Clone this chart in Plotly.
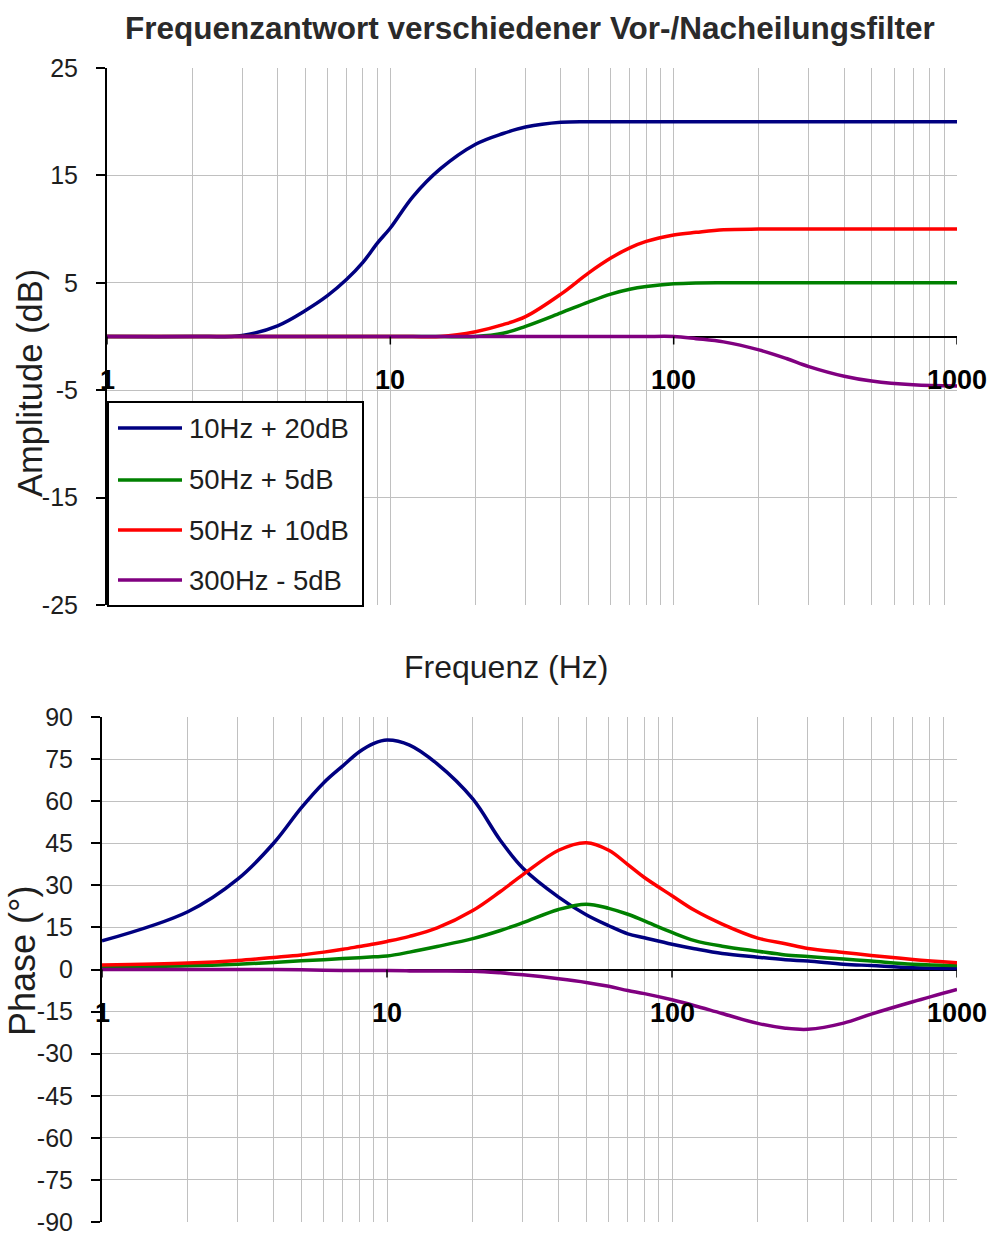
import numpy as np
import plotly.graph_objects as go

W, H = 989, 1237

# Frequency grid (Hz) shared by all series
FREQ = [1, 2, 3, 4, 5, 6, 7, 8, 9, 10, 12, 15, 20, 25, 30, 40, 50, 60, 70, 80,
        100, 120, 150, 200, 250, 300, 400, 500, 700, 1000]

SERIES_NAMES = ["10Hz + 20dB", "50Hz + 5dB", "50Hz + 10dB", "300Hz - 5dB"]
SERIES_COLORS = ["#000080", "#008000", "#ff0000", "#800080"]

# Amplitude (dB)
AMP_10HZ_20DB = [0, 0, 0.1, 1.0, 2.4, 3.8, 5.3, 6.9, 8.7, 10.1, 13.0, 15.6, 17.9, 18.9, 19.5,
                 19.95, 20, 20, 20, 20, 20, 20, 20, 20, 20, 20, 20, 20, 20, 20]
AMP_50HZ_5DB = [0, 0, 0, 0, 0, 0, 0, 0, 0, 0, 0, 0, 0, 0.3, 0.95,
                2.2, 3.2, 3.95, 4.4, 4.65, 4.9, 4.98, 5, 5, 5, 5, 5, 5, 5, 5]
AMP_50HZ_10DB = [0, 0, 0, 0, 0, 0, 0, 0, 0, 0, 0, 0, 0.45, 1.1, 1.85,
                 3.95, 5.9, 7.3, 8.25, 8.85, 9.45, 9.7, 9.95, 10, 10, 10, 10, 10, 10, 10]
AMP_300HZ_M5DB = [0, 0, 0, 0, 0, 0, 0, 0, 0, 0, 0, 0, 0, 0, 0,
                  0, 0, 0, 0, 0, 0, -0.2, -0.5, -1.25, -2.05, -2.8, -3.7, -4.15, -4.5, -4.6]

# Phase (degrees)
PH_10HZ_20DB = [10.2, 20.6, 32.3, 45.0, 57.6, 66.6, 72.6, 77.6, 80.6, 81.8, 80.0, 73.3, 60.8, 46.0, 36.1,
                25.8, 19.5, 15.6, 12.7, 11.3, 9.0, 7.4, 5.7, 4.4, 3.5, 3.0, 1.9, 1.4, 0.65, 0.35]
PH_50HZ_5DB = [0.8, 1.3, 1.9, 2.5, 3.1, 3.5, 3.9, 4.2, 4.5, 4.8, 6.2, 8.2, 11.0, 13.9, 16.7,
               21.4, 23.3, 21.8, 19.7, 17.3, 13.2, 10.3, 8.3, 6.5, 5.2, 4.6, 3.7, 3.0, 1.9, 1.4]
PH_50HZ_10DB = [1.6, 2.3, 3.2, 4.3, 5.2, 6.2, 7.2, 8.2, 9.1, 10.0, 11.8, 14.8, 21.0, 27.8, 33.8,
                42.5, 45.2, 42.5, 37.4, 32.8, 26.3, 21.1, 16.2, 11.2, 9.2, 7.5, 6.1, 5.0, 3.6, 2.4]
PH_300HZ_M5DB = [0, 0, 0, 0, -0.1, -0.3, -0.4, -0.4, -0.4, -0.4, -0.5, -0.5, -0.6, -1.2, -1.9,
                 -3.3, -4.6, -6.0, -7.5, -8.6, -10.8, -12.9, -15.7, -19.2, -20.9, -21.3, -19.1, -15.9, -11.5, -7.1]

AMPLITUDES = [AMP_10HZ_20DB, AMP_50HZ_5DB, AMP_50HZ_10DB, AMP_300HZ_M5DB]
PHASES = [PH_10HZ_20DB, PH_50HZ_5DB, PH_50HZ_10DB, PH_300HZ_M5DB]

X_LABELS = [1, 10, 100, 1000]
GRID_FREQ = [m * 10 ** e for e in range(3) for m in range(1, 10)] + [1000]
AMP_TICKS = [-25, -15, -5, 5, 15, 25]
PHASE_TICKS = list(range(-90, 91, 15))

FONT = "Liberation Sans, Arial, sans-serif"
GRID = "#c0c0c0"
TEXT = "#1e1e1e"


def px_x(x):
    return x / W


def px_y(y):
    return 1 - y / H


def tick_text(values):
    # plain hyphen for negative numbers
    return [str(v) for v in values]


fig = go.Figure()

for name, color, amp, ph in zip(SERIES_NAMES, SERIES_COLORS, AMPLITUDES, PHASES):
    fig.add_trace(go.Scatter(x=FREQ, y=amp, name=name, mode="lines",
                             line=dict(color=color, width=3.5, shape="spline", smoothing=1.0),
                             xaxis="x", yaxis="y", showlegend=False))
    fig.add_trace(go.Scatter(x=FREQ, y=ph, name=name, mode="lines",
                             line=dict(color=color, width=3.5, shape="spline", smoothing=1.0),
                             xaxis="x2", yaxis="y2", showlegend=False))

xcommon = dict(type="log", range=[0, 3], tickvals=GRID_FREQ, showticklabels=False, ticks="",
               showgrid=True, gridcolor=GRID, gridwidth=1.2, showline=False, zeroline=False,
               automargin=False)
ycommon = dict(ticks="outside", ticklen=9, tickwidth=1.5, tickcolor="black",
               ticklabelstandoff=13, ticklabeloverflow="allow",
               showline=True, linecolor="black", linewidth=2, showgrid=True,
               gridcolor=GRID, gridwidth=1.2, zeroline=True, zerolinecolor="black",
               zerolinewidth=1.5, automargin=False,
               tickfont=dict(family=FONT, size=25, color=TEXT))

fig.update_layout(
    width=W, height=H,
    margin=dict(l=0, r=0, t=0, b=0, autoexpand=False),
    paper_bgcolor="white", plot_bgcolor="white",
    xaxis=dict(domain=[px_x(107), px_x(957)], anchor="y", **xcommon),
    yaxis=dict(domain=[px_y(605), px_y(68)], anchor="x", range=[-25, 25],
               tickvals=AMP_TICKS, ticktext=tick_text(AMP_TICKS), **ycommon),
    xaxis2=dict(domain=[px_x(102), px_x(957)], anchor="y2", **xcommon),
    yaxis2=dict(domain=[px_y(1222), px_y(717)], anchor="x2", range=[-90, 90],
                tickvals=PHASE_TICKS, ticktext=tick_text(PHASE_TICKS), **ycommon),
)

annotations = []
shapes = []

# x tick marks and labels sitting on the zero line of each panel
for xa, ya in (("x", "y"), ("x2", "y2")):
    for v in X_LABELS:
        shapes.append(dict(type="line", xref=xa, yref=ya, x0=v, x1=v,
                           ysizemode="pixel", yanchor=0, y0=0, y1=-8,
                           line=dict(color="black", width=1.5)))
        annotations.append(dict(xref=xa, yref=ya, x=np.log10(v), y=0, yshift=-43,
                                text=f"<b>{v}</b>", showarrow=False,
                                xanchor="center", yanchor="middle",
                                font=dict(family=FONT, size=27, color="black")))

# titles
annotations.append(dict(xref="paper", yref="paper", x=px_x(530), y=px_y(28),
                        text="<b>Frequenzantwort verschiedener Vor-/Nacheilungsfilter</b>",
                        showarrow=False, xanchor="center", yanchor="middle",
                        font=dict(family=FONT, size=31.5, color="#2a2a2a")))
annotations.append(dict(xref="paper", yref="paper", x=px_x(506), y=px_y(667),
                        text="Frequenz (Hz)", showarrow=False,
                        xanchor="center", yanchor="middle",
                        font=dict(family=FONT, size=32, color=TEXT)))
annotations.append(dict(xref="paper", yref="paper", x=px_x(30), y=px_y(383),
                        text="Amplitude (dB)", textangle=-90, showarrow=False,
                        xanchor="center", yanchor="middle",
                        font=dict(family=FONT, size=34.5, color=TEXT)))
annotations.append(dict(xref="paper", yref="paper", x=px_x(22), y=px_y(961),
                        text="Phase (°)", textangle=-90, showarrow=False,
                        xanchor="center", yanchor="middle",
                        font=dict(family=FONT, size=36, color=TEXT)))

# legend box drawn inside the amplitude panel
LEG_LEFT, LEG_RIGHT, LEG_TOP, LEG_BOTTOM = 108, 363, 402, 606
LEG_ROWS = [428, 480, 530, 580]
shapes.append(dict(type="rect", xref="paper", yref="paper",
                   x0=px_x(LEG_LEFT), x1=px_x(LEG_RIGHT), y0=px_y(LEG_BOTTOM), y1=px_y(LEG_TOP),
                   fillcolor="white", line=dict(color="black", width=2), layer="above"))
for name, color, row in zip(SERIES_NAMES, SERIES_COLORS, LEG_ROWS):
    shapes.append(dict(type="line", xref="paper", yref="paper",
                       x0=px_x(118), x1=px_x(182), y0=px_y(row), y1=px_y(row),
                       line=dict(color=color, width=3.5), layer="above"))
    annotations.append(dict(xref="paper", yref="paper", x=px_x(187), y=px_y(row),
                            text=name, showarrow=False, xanchor="left", yanchor="middle",
                            font=dict(family=FONT, size=27.5, color=TEXT)))

fig.update_layout(shapes=shapes, annotations=annotations)
fig.write_html("out.html")
